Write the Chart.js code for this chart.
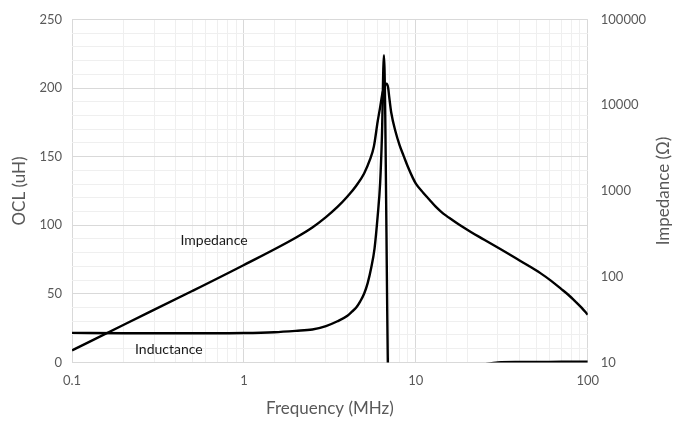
<!DOCTYPE html>
<html lang="en">
<head>
  <meta charset="UTF-8" />
  <title>OCL and Impedance vs Frequency</title>
  <script src="https://cdn.jsdelivr.net/npm/chart.js"></script>
  <style>
    html, body { margin: 0; padding: 0; background: #fff; }
    #wrap { width: 685px; height: 421px; }
  </style>
</head>
<body>
  <div id="wrap"><canvas id="chart"></canvas></div>

  <script>
    // Inductance (OCL, uH)
    const freqL = [0.1, 0.2, 0.5, 1, 1.5, 2, 2.5, 3, 3.5, 4, 4.25, 4.5, 4.75, 5, 5.25, 5.5, 5.75, 6.0, 6.2, 6.35, 6.52, 6.88, 7.3, 10, 15, 20, 25, 30, 40, 60, 100];
    const valL  = [21.5, 21.3, 21.2, 21.4, 22, 23, 24, 26.5, 30, 34, 37, 40, 44.5, 50, 58, 69, 83, 107, 131, 165, 224, -5, -200, -40, -10, -4, -1.5, 0, 0.3, 0.4, 0.5];

    // Impedance (ohm)
    const freqZ = [0.1, 0.2, 0.5, 1, 2, 2.5, 3, 3.5, 4, 4.5, 5, 5.4, 5.7, 6.0, 6.2, 6.4, 6.6, 6.75, 6.9, 7.0, 7.2, 7.6, 8.05, 8.5, 9, 9.6, 10, 11, 12, 13, 14, 15, 16, 18, 21, 25, 31, 38, 45, 53, 61, 70, 77, 85, 92, 100];
    const valZ  = [13.8, 27.5, 68, 137, 285, 375, 495, 650, 860, 1150, 1600, 2300, 3300, 6500, 9500, 14000, 17000, 17800, 16000, 12500, 8100, 5000, 3400, 2550, 1900, 1420, 1220, 960, 790, 660, 575, 515, 470, 400, 330, 270, 210, 165, 135, 110, 90, 72, 61.5, 51, 43.5, 36];

    const xTicks = [0.1, 1, 10, 100];
    const leftTicks = [0, 50, 100, 150, 200, 250];
    const rightTicks = [10, 100, 1000, 10000, 100000];

    const textColor = '#595959';
    const font = 'Lato, "Open Sans", sans-serif';

    const isDecade = v => {
      const l = Math.log10(v);
      return Math.abs(l - Math.round(l)) < 1e-6;
    };

    // curve names and the right-hand axis title (reads bottom to top)
    const extraText = {
      id: 'extraText',
      afterDatasetsDraw(chart) {
        const { ctx, scales, chartArea } = chart;
        ctx.save();
        ctx.fillStyle = '#1a1a1a';
        ctx.font = '14px ' + font;
        ctx.textAlign = 'center';
        ctx.textBaseline = 'middle';
        ctx.fillText('Impedance', scales.x.getPixelForValue(0.67), scales.y.getPixelForValue(89));
        ctx.fillText('Inductance', scales.x.getPixelForValue(0.366), scales.y.getPixelForValue(9.4));

        ctx.fillStyle = textColor;
        ctx.font = '17px ' + font;
        ctx.translate(chartArea.right + 76, (chartArea.top + chartArea.bottom) / 2);
        ctx.rotate(-Math.PI / 2);
        ctx.fillText('Impedance (Ω)', 0, 0);
        ctx.restore();
      }
    };

    new Chart(document.getElementById('chart'), {
      type: 'line',
      data: {
        datasets: [
          {
            label: 'Inductance',
            data: freqL.map((f, i) => ({ x: f, y: valL[i] })),
            yAxisID: 'y',
            borderColor: '#000',
            borderWidth: 2.4,
            pointRadius: 0,
            cubicInterpolationMode: 'monotone'
          },
          {
            label: 'Impedance',
            data: freqZ.map((f, i) => ({ x: f, y: valZ[i] })),
            yAxisID: 'y1',
            borderColor: '#000',
            borderWidth: 2.4,
            pointRadius: 0,
            cubicInterpolationMode: 'monotone'
          }
        ]
      },
      options: {
        responsive: true,
        maintainAspectRatio: false,
        animation: false,
        layout: { autoPadding: false, padding: { left: 9, right: 26, top: 13, bottom: 4 } },
        plugins: {
          legend: { display: false },
          tooltip: { enabled: false }
        },
        scales: {
          x: {
            type: 'logarithmic',
            min: 0.1,
            max: 100,
            border: { display: false },
            grid: {
              drawTicks: false,
              color: c => isDecade(c.tick.value) ? '#d9d9d9' : '#efefef',
              lineWidth: 1
            },
            ticks: {
              autoSkip: false,
              maxRotation: 0,
              padding: 11,
              color: textColor,
              font: { family: font, size: 13 },
              callback: v => xTicks.some(t => Math.abs(t - v) < 1e-9) ? String(v) : ''
            },
            title: {
              display: true,
              text: 'Frequency (MHz)',
              color: textColor,
              font: { family: font, size: 17, lineHeight: 1 },
              padding: { top: 0, bottom: 0 }
            }
          },
          y: {
            type: 'linear',
            position: 'left',
            min: 0,
            max: 250,
            border: { display: false },
            grid: {
              drawTicks: false,
              color: c => c.tick.value % 50 === 0 ? '#d9d9d9' : '#efefef'
            },
            ticks: {
              stepSize: 10,
              autoSkip: false,
              padding: 10,
              color: textColor,
              font: { family: font, size: 13, lineHeight: 1 },
              callback: v => leftTicks.includes(v) ? String(v) : ''
            },
            title: {
              display: true,
              text: 'OCL (uH)',
              color: textColor,
              font: { family: font, size: 17 },
              padding: { top: 0, bottom: 0 }
            }
          },
          y1: {
            type: 'logarithmic',
            position: 'right',
            min: 10,
            max: 100000,
            border: { display: false },
            grid: { drawOnChartArea: false, drawTicks: false },
            ticks: {
              autoSkip: false,
              padding: 13,
              color: textColor,
              font: { family: font, size: 13, lineHeight: 1 },
              callback: v => rightTicks.includes(v) ? String(v) : ''
            }
          }
        }
      },
      plugins: [extraText]
    });
  </script>
</body>
</html>
